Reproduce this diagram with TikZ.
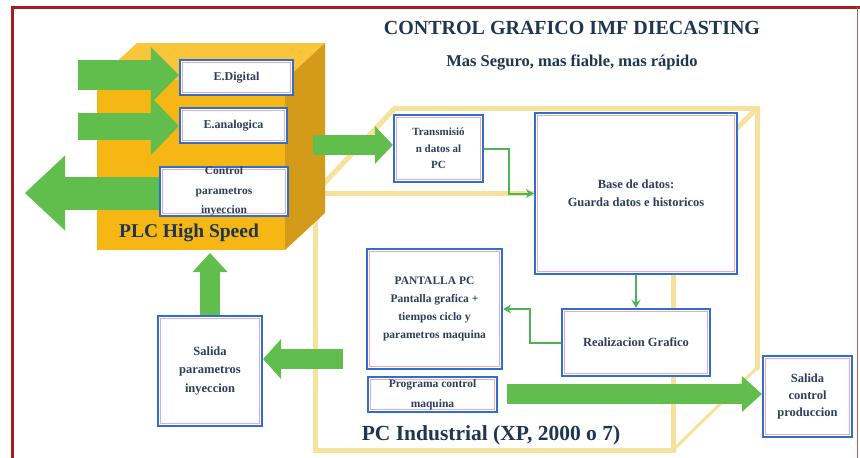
\documentclass[tikz,border=0pt]{standalone}
\usepackage{fontspec}
\setmainfont{Liberation Serif}
\usetikzlibrary{arrows.meta}
\definecolor{framered}{HTML}{A11F22}
\definecolor{gold}{HTML}{F6B613}
\definecolor{goldtop}{HTML}{F9C53A}
\definecolor{golddark}{HTML}{D49B1A}
\definecolor{pcyellow}{HTML}{F6E29A}
\definecolor{arrowgreen}{HTML}{62BE4C}
\definecolor{linegreen}{HTML}{4DB358}
\definecolor{boxblue}{HTML}{2F6FCB}
\definecolor{boxpink}{HTML}{E6A9C8}
\definecolor{txt}{HTML}{2E3D5A}
\definecolor{titlecol}{HTML}{1F3550}
\begin{document}
\begin{tikzpicture}[x=1pt,y=-1pt,
  box/.style={draw=boxblue, line width=2.2pt, fill=white, inner sep=0pt,
    align=center, text=txt, font=\bfseries\fontsize{12}{17}\selectfont,
    path picture={\draw[boxpink, line width=0.8pt]
      ([shift={(2.6pt,-2.6pt)}]path picture bounding box.north west) rectangle
      ([shift={(-2.6pt,2.6pt)}]path picture bounding box.south east);}},
  thinarrow/.style={draw=linegreen, line width=2pt, -{Stealth[length=8pt,width=9pt]}},
  pcline/.style={draw=pcyellow, line width=5pt, line cap=round},
  bigtext/.style={text=titlecol, inner sep=0pt}
]
\useasboundingbox (0,0) rectangle (860,458);
\fill[white] (0,0) rectangle (860,458);

% outer frame
\draw[framered, line width=3pt] (12,470) -- (12,7) -- (860,7);
\draw[framered!70, line width=1.5pt] (857.5,7) -- (857.5,470);

% titles
\node[bigtext, font=\bfseries\fontsize{20}{24}\selectfont] (title) at (572,28) {CONTROL GRAFICO IMF DIECASTING};
\node[bigtext, font=\bfseries\fontsize{16.5}{20}\selectfont] (subtitle) at (572,63) {Mas Seguro, mas fiable, mas rápido};

% PC industrial yellow wireframe cube
\draw[pcline] (315,193) rectangle (673,450);
\draw[pcline] (395,108) -- (757,108) -- (757,368);
\draw[pcline] (315,193) -- (395,108);
\draw[pcline] (673,193) -- (757,108);
\draw[pcline, line width=3pt] (673,450) -- (757,368);

% PLC 3D block
\fill[goldtop] (97,80) -- (137,43) -- (325,43) -- (285,80) -- cycle;
\fill[golddark] (285,80) -- (325,43) -- (325,213) -- (285,250) -- cycle;
\fill[gold] (97,80) rectangle (285,250);
\node[bigtext, font=\bfseries\fontsize{19.5}{24}\selectfont] (plclabel) at (189,233) {PLC High Speed};

% boxes
\node[box, minimum width=113pt, minimum height=35pt] (edig) at (236.5,77.5) {E.Digital};
\node[box, minimum width=107pt, minimum height=35pt] (eana) at (233.5,125.5) {E.analogica};
\node[box, minimum width=128pt, minimum height=47pt, font=\bfseries\fontsize{11.5}{19.5}\selectfont] (ctrl) at (224,191.5) {Control\\parametros\\inyeccion};
\node[box, minimum width=89pt, minimum height=67pt, font=\bfseries\fontsize{11}{16.5}\selectfont] (trans) at (438.5,148.5) {Transmisió\\n datos al\\PC};
\node[box, minimum width=202pt, minimum height=161pt, font=\bfseries\fontsize{12.5}{18}\selectfont] (base) at (636,193.5) {Base de datos:\\Guarda datos e historicos};
\node[box, minimum width=135pt, minimum height=120pt, font=\bfseries\fontsize{11.5}{18}\selectfont] (pant) at (434.5,309) {PANTALLA PC\\Pantalla grafica +\\tiempos ciclo y\\parametros maquina};
\node[box, minimum width=129pt, minimum height=35pt, font=\bfseries\fontsize{11.5}{20}\selectfont] (prog) at (432.5,394.5) {Programa control\\maquina};
\node[box, minimum width=148pt, minimum height=67pt, font=\bfseries\fontsize{12.5}{17}\selectfont] (real) at (636,342.5) {Realizacion Grafico};
\node[box, minimum width=89pt, minimum height=81pt, font=\bfseries\fontsize{12.5}{17}\selectfont] (salc) at (807.5,396.5) {Salida\\control\\produccion};
\node[box, minimum width=104pt, minimum height=110pt, font=\bfseries\fontsize{12.5}{18.5}\selectfont] (salp) at (210,371) {Salida\\parametros\\inyeccion};

\node[bigtext, font=\bfseries\fontsize{21.5}{26}\selectfont] (pclabel) at (491,435) {PC Industrial (XP, 2000 o 7)};

% free ends of block arrows
\coordinate (in1) at (78,75);
\coordinate (in2) at (78,126);
\coordinate (out3) at (25,193);
\coordinate (plcout) at (313,145);
\coordinate (progout) at (507,394);
\coordinate (pcout) at (343,359);
\coordinate (plcbot) at (210,253);

% block arrows
\draw[arrowgreen, line width=30pt, -{Triangle[length=28pt,width=56pt,line width=0pt]}] (in1) -- (edig.west |- in1);
\draw[arrowgreen, line width=27pt, -{Triangle[length=28pt,width=58pt,line width=0pt]}] (in2) -- (eana.west |- in2);
\draw[arrowgreen, line width=33pt, -{Triangle[length=40pt,width=75pt,line width=0pt]}] (ctrl.west |- out3) -- (out3);
\draw[arrowgreen, line width=20pt, -{Triangle[length=18pt,width=38pt,line width=0pt]}] (plcout) -- (trans.west |- plcout);
\draw[arrowgreen, line width=20pt, -{Triangle[length=20pt,width=36pt,line width=0pt]}] (progout) -- (salc.west |- progout);
\draw[arrowgreen, line width=20pt, -{Triangle[length=18pt,width=40pt,line width=0pt]}] (pcout) -- (salp.east |- pcout);
\draw[arrowgreen, line width=20pt, -{Triangle[length=19pt,width=35pt,line width=0pt]}] (salp.north) -- (plcbot);

% thin connectors
\draw[thinarrow] (trans.east) -- ++(25,0) |- (base.west);
\draw[thinarrow] (base.south) -- (real.north);
\draw[thinarrow] (real.west) -- ++(-31,0) |- (pant.east);
\end{tikzpicture}
\end{document}
